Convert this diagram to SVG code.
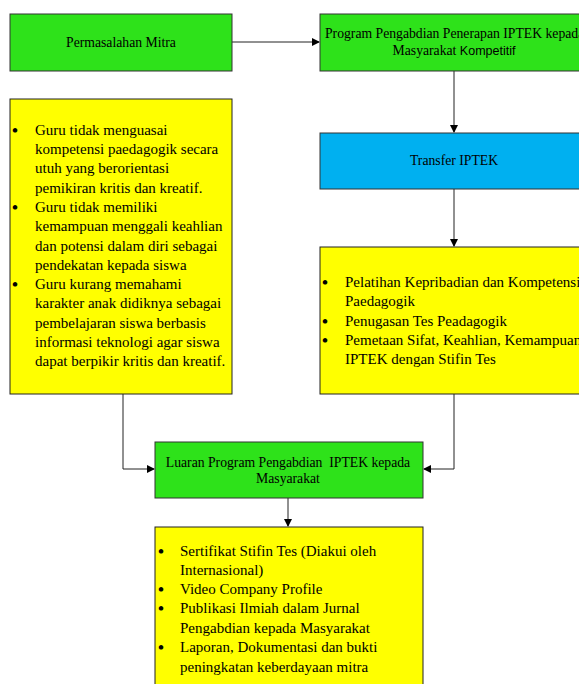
<svg xmlns="http://www.w3.org/2000/svg" width="579" height="684" viewBox="0 0 579 684">
<style>
.g{fill:#2ee21a;stroke:#333;stroke-width:1}
.y{fill:#ffff00;stroke:#222;stroke-width:1}
.b{fill:#00b0f0;stroke:#333;stroke-width:1}
text{font-family:"Liberation Serif","Times New Roman",serif;font-size:13.7px;fill:#000;white-space:pre}
.l text{font-size:15px}
.l text.d{font-size:17px;font-weight:bold}
.c{text-anchor:middle}
.ln{fill:none;stroke:#222;stroke-width:1}
</style>
<defs>
<marker id="ah" markerWidth="8" markerHeight="8" refX="7" refY="4" orient="auto" markerUnits="userSpaceOnUse">
<path d="M0,0 L8,4 L0,8 Z" fill="#000"/>
</marker>
</defs>
<g id="connectors">
<line class="ln" x1="232" y1="42" x2="319" y2="42" marker-end="url(#ah)"/>
<line class="ln" x1="454" y1="71" x2="454" y2="132" marker-end="url(#ah)"/>
<line class="ln" x1="454" y1="189" x2="454" y2="246" marker-end="url(#ah)"/>
<polyline class="ln" points="123,394 123,469 154,469" marker-end="url(#ah)"/>
<polyline class="ln" points="454,394 454,469 424,469" marker-end="url(#ah)"/>
<line class="ln" x1="288" y1="498" x2="288" y2="526" marker-end="url(#ah)"/>
</g>
<g id="permasalahan">
<rect class="g" x="10" y="14" width="222" height="57"/>
<text class="c" x="121" y="47">Permasalahan Mitra</text>
</g>
<g id="program">
<rect class="g" x="320" y="14" width="268" height="57"/>
<text x="325" y="38">Program Pengabdian Penerapan IPTEK kepada</text>
<text class="c" x="454" y="55">Masyarakat <tspan style="font-family:'Liberation Sans',Arial,sans-serif;font-size:12.5px">Kompetitif</tspan></text>
</g>
<g id="masalah-list" class="l">
<rect class="y" x="10" y="99" width="222" height="295"/>
<text class="d" x="12" y="136">•</text><text x="35" y="135">Guru tidak menguasai</text>
<text x="35" y="154">kompetensi paedagogik secara</text>
<text x="35" y="173">utuh yang berorientasi</text>
<text x="35" y="193">pemikiran kritis dan kreatif.</text>
<text class="d" x="12" y="213">•</text><text x="35" y="212">Guru tidak memiliki</text>
<text x="35" y="231">kemampuan menggali keahlian</text>
<text x="35" y="251">dan potensi dalam diri sebagai</text>
<text x="35" y="270">pendekatan kepada siswa</text>
<text class="d" x="12" y="290">•</text><text x="35" y="289">Guru kurang memahami</text>
<text x="35" y="308">karakter anak didiknya sebagai</text>
<text x="35" y="328">pembelajaran siswa berbasis</text>
<text x="35" y="347">informasi teknologi agar siswa</text>
<text x="35" y="366">dapat berpikir kritis dan kreatif.</text>
</g>
<g id="transfer">
<rect class="b" x="320" y="133" width="268" height="56"/>
<text class="c" x="454" y="165">Transfer IPTEK</text>
</g>
<g id="kegiatan-list" class="l">
<rect class="y" x="320" y="247" width="268" height="147"/>
<text class="d" x="322" y="288">•</text><text x="345" y="287">Pelatihan Kepribadian dan Kompetensi</text>
<text x="345" y="306">Paedagogik</text>
<text class="d" x="322" y="327">•</text><text x="345" y="326">Penugasan Tes Peadagogik</text>
<text class="d" x="322" y="346">•</text><text x="345" y="345">Pemetaan Sifat, Keahlian, Kemampuan</text>
<text x="345" y="364">IPTEK dengan Stifin Tes</text>
</g>
<g id="luaran">
<rect class="g" x="155" y="442" width="268" height="56"/>
<text class="c" x="288" y="467">Luaran Program Pengabdian  IPTEK kepada</text>
<text class="c" x="288" y="483">Masyarakat</text>
</g>
<g id="luaran-list" class="l">
<rect class="y" x="155" y="527" width="268" height="170"/>
<text class="d" x="158" y="557">•</text><text x="180" y="556">Sertifikat Stifin Tes (Diakui oleh</text>
<text x="180" y="575">Internasional)</text>
<text class="d" x="158" y="595">•</text><text x="180" y="594">Video Company Profile</text>
<text class="d" x="158" y="614">•</text><text x="180" y="613">Publikasi Ilmiah dalam Jurnal</text>
<text x="180" y="633">Pengabdian kepada Masyarakat</text>
<text class="d" x="158" y="653">•</text><text x="180" y="652">Laporan, Dokumentasi dan bukti</text>
<text x="180" y="672">peningkatan keberdayaan mitra</text>
</g>
</svg>
